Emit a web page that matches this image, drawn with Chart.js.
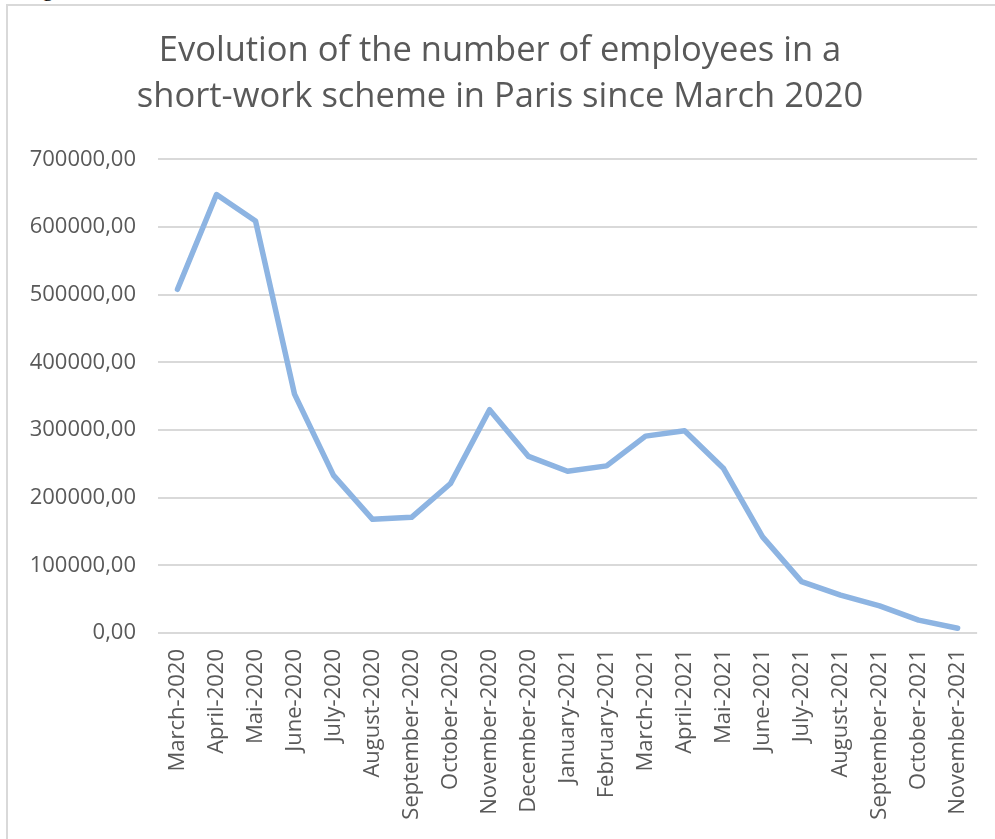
<!DOCTYPE html>
<html><head><meta charset="utf-8">
<script src="https://cdn.jsdelivr.net/npm/chart.js@4"></script>
<style>
html,body{margin:0;padding:0;background:#fff;width:995px;height:839px;overflow:hidden;}
#cap{position:absolute;left:24px;top:-24px;font-family:"Liberation Serif";font-size:22px;color:#000;line-height:26px;}
#frame{position:absolute;left:6px;top:4px;width:1000px;height:900px;border:2px solid #d9d9d9;box-sizing:border-box;}
#wrap{position:absolute;left:0;top:0;width:995px;height:839px;overflow:hidden;}
</style></head><body>
<div id="cap">Figure</div>
<div id="frame"></div>
<div id="wrap"><canvas id="c" width="1000" height="839"></canvas></div>
<script>
const titleLines = ["Evolution of the number of employees in a", "short-work scheme in Paris since March 2020"];
const months = ["March-2020","April-2020","Mai-2020","June-2020","July-2020","August-2020","September-2020","October-2020","November-2020","December-2020","January-2021","February-2021","March-2021","April-2021","Mai-2021","June-2021","July-2021","August-2021","September-2021","October-2021","November-2021"];
const employees = [508000,648000,609000,353000,233000,168000,171000,221000,330000,261000,239000,247000,291000,299000,243000,142000,76000,56000,40000,19000,7000];
const yMin = 0, yMax = 700000, yStep = 100000;

const grey = '#595959';
new Chart(document.getElementById('c'), {
  type: 'line',
  data: { labels: months, datasets: [{ data: employees, borderColor: '#8DB4E2', borderWidth: 5.5, pointRadius: 0, tension: 0, borderCapStyle: 'round', borderJoinStyle: 'round', fill: false }] },
  options: {
    responsive: false, animation: false, devicePixelRatio: 1,
    layout: { padding: { left: 0, right: 0, top: 0, bottom: 0 } },
    plugins: {
      legend: { display: false }, tooltip: { enabled: false },
      title: { display: true, text: titleLines, color: grey,
        font: { family: 'Open Sans', size: 34.5, weight: 'normal', lineHeight: 1.31 },
        padding: { top: 29, bottom: 40 } }
    },
    scales: {
      y: { min: yMin, max: yMax,
        ticks: { stepSize: yStep, color: grey, padding: 22, font: { family: 'Open Sans', size: 22 },
          callback: v => v.toFixed(2).replace('.', ',') },
        grid: { color: '#d9d9d9', lineWidth: 2, drawTicks: false },
        border: { display: false },
        afterFit: s => { s.width = 158; } },
      x: { offset: true,
        ticks: { color: grey, padding: 16, minRotation: 90, maxRotation: 90, autoSkip: false, font: { family: 'Open Sans', size: 22 } },
        grid: { display: false, drawTicks: false, offset: true },
        border: { display: false },
        afterFit: s => { s.height = 206; } }
    }
  }
});
</script>
</body></html>
